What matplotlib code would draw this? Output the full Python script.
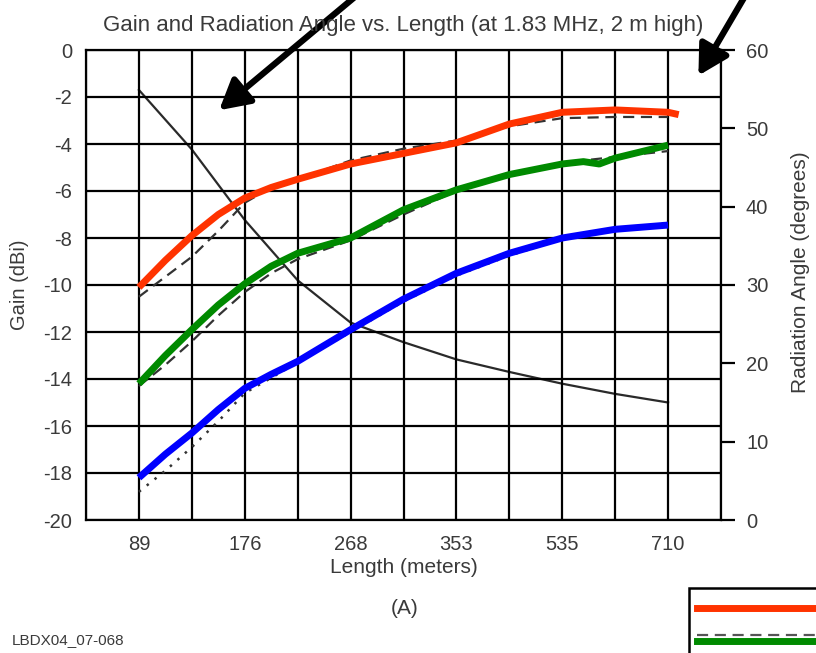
import matplotlib
matplotlib.use("Agg")
import matplotlib.pyplot as plt
from matplotlib.patches import FancyArrowPatch, Rectangle
from matplotlib.lines import Line2D

plt.rcParams['font.family'] = ['Liberation Sans', 'DejaVu Sans']
plt.rcParams['axes.unicode_minus'] = False

# x axis: equally spaced length steps, grid column index 0..12
length_labels = ["89", "176", "268", "353", "535", "710"]
label_cols = [1, 3, 5, 7, 9, 11]

# gain curves (dBi), sampled at grid columns
red_x = [1, 1.5, 2, 2.5, 3, 3.5, 4, 5, 6, 7, 8, 9, 10, 11, 11.2]
red_y = [-10.1, -8.95, -7.9, -7.0, -6.3, -5.85, -5.5, -4.85, -4.4, -3.95, -3.15, -2.65, -2.55, -2.65, -2.75]

red_ref_x = [1, 1.5, 2, 2.5, 3, 3.5, 4, 5, 6, 7, 8, 9, 10, 11]
red_ref_y = [-10.5, -9.65, -8.8, -7.7, -6.5, -5.85, -5.5, -4.7, -4.2, -3.85, -3.25, -2.9, -2.85, -2.85]

green_x = [1, 1.5, 2, 2.5, 3, 3.5, 4, 5, 6, 7, 8, 9, 9.4, 9.7, 10, 11]
green_y = [-14.2, -13.0, -11.9, -10.85, -9.95, -9.2, -8.65, -8.0, -6.8, -5.95, -5.3, -4.85, -4.75, -4.85, -4.6, -4.05]

green_ref_x = [1, 1.5, 2, 2.5, 3, 3.5, 4, 5, 6, 7, 8, 9, 10, 11]
green_ref_y = [-14.3, -13.4, -12.4, -11.3, -10.3, -9.5, -8.9, -8.1, -7.0, -6.0, -5.3, -4.8, -4.55, -4.3]

blue_x = [1, 1.5, 2, 2.5, 3, 3.5, 4, 5, 6, 7, 8, 9, 10, 11]
blue_y = [-18.2, -17.2, -16.3, -15.3, -14.4, -13.8, -13.25, -11.9, -10.6, -9.5, -8.65, -8.0, -7.63, -7.45]

blue_ref_x = [1, 1.5, 2, 2.5, 3, 4, 5, 6, 7, 8, 9, 10, 11]
blue_ref_y = [-18.8, -17.9, -16.9, -15.8, -14.6, -13.3, -12.0, -10.7, -9.6, -8.75, -8.05, -7.6, -7.35]

# radiation angle (degrees, right axis)
angle_x = [1, 2, 3, 4, 5, 6, 7, 8, 9, 10, 11]
angle_y = [54.9, 47.3, 38.3, 30.6, 25.2, 22.7, 20.5, 18.9, 17.4, 16.1, 15.0]

text_col = "#3a3a3a"

fig = plt.figure(figsize=(8.16, 6.53), dpi=100)
ax = fig.add_axes([86/816, 1-520/653, (721-86)/816, (520-50)/653])
ax2 = ax.twinx()
ax.set_zorder(2)
ax.patch.set_visible(False)
ax2.set_zorder(1)

# grid
ax.set_xlim(0, 12)
ax.set_ylim(-20, 0)
ax.set_xticks(range(13), minor=True)
ax.set_xticks(label_cols)
ax.set_xticklabels(length_labels)
ax.set_yticks(range(-20, 1, 2))
ax.set_yticklabels([str(v) for v in range(-20, 1, 2)])
ax.grid(True, which="both", color="black", linewidth=1.6)
ax.tick_params(axis="both", which="both", length=0, labelsize=14.5, colors=text_col)
ax.tick_params(axis="x", pad=11)
ax.tick_params(axis="y", pad=10)
ax.spines["right"].set_visible(False)
for s in ax.spines.values():
    s.set_linewidth(1.6)

# gain curves
ax.plot(red_ref_x, red_ref_y, color="#333333", lw=1.6, ls=(0, (5, 3)))
ax.plot(green_ref_x, green_ref_y, color="#333333", lw=1.6, ls=(0, (5, 3)))
ax.plot(blue_ref_x, blue_ref_y, color="#333333", lw=1.8, ls=(0, (1, 3)))
ax.plot(red_x, red_y, color="#ff3300", lw=5, solid_capstyle="butt")
ax.plot(green_x, green_y, color="#008a00", lw=5, solid_capstyle="butt")
ax.plot(blue_x, blue_y, color="#0000ff", lw=5, solid_capstyle="butt")

# angle curve
ax2.plot(angle_x, angle_y, color="#2a2a2a", lw=1.6)
ax2.set_ylim(0, 60)
ax2.set_yticks(range(0, 61, 10))
ax2.tick_params(axis="y", direction="out", length=10, width=1.6, pad=8,
                labelsize=14.5, colors=text_col)
ax2.tick_params(axis="y", color="black")
for name, s in ax2.spines.items():
    s.set_visible(name == "right")
    s.set_linewidth(1.6)

ax.set_title("Gain and Radiation Angle vs. Length (at 1.83 MHz, 2 m high)",
             fontsize=16, color=text_col, pad=14)
ax.set_xlabel("Length (meters)", fontsize=15, color=text_col, labelpad=3)
ax.set_ylabel("Gain (dBi)", fontsize=14.5, color=text_col, labelpad=10)
ax2.set_ylabel("Radiation Angle (degrees)", fontsize=15, color=text_col)
ax2.yaxis.set_label_coords((791 - 86) / 635, (520 - 272) / 470)

fig.text(405/816, 1-608/653, "(A)", ha="center", va="center", fontsize=15, color=text_col)
fig.text(12/816, 1-640/653, "LBDX04_07-068", ha="left", va="center", fontsize=11, color=text_col)

# pointer arrows
px = fig.dpi_scale_trans
for tail, tip in [((362, 662), (217, 541)), ((748, 662), (697, 575))]:
    fig.add_artist(FancyArrowPatch((tail[0]/100, tail[1]/100), (tip[0]/100, tip[1]/100),
                                   transform=px, arrowstyle="-|>,head_length=0.9,head_width=0.5",
                                   mutation_scale=20, lw=4.5, color="black"))

# cropped legend box at bottom right
fig.add_artist(Rectangle((689/100, -0.1), 2.0, (65+10)/100, transform=px,
                         fill=False, edgecolor="black", lw=1.8))
fig.add_artist(Line2D([697/100, 8.3], [45/100, 45/100], transform=px, color="#ff3300", lw=5))
fig.add_artist(Line2D([697/100, 8.3], [18/100, 18/100], transform=px, color="#555555", lw=1.6, ls=(0, (5, 3))))
fig.add_artist(Line2D([697/100, 8.3], [12/100, 12/100], transform=px, color="#008a00", lw=5))

fig.savefig("out.png", dpi=100)
